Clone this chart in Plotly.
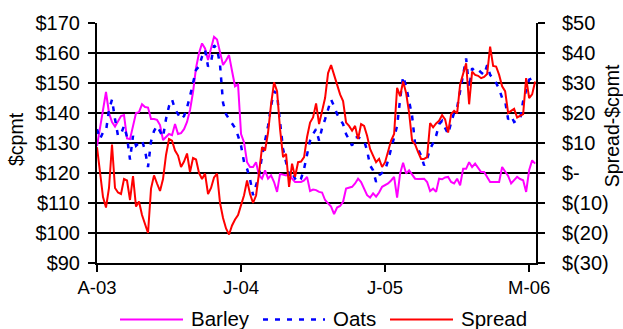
import pandas as pd
import plotly.graph_objects as go

# Weekly observations, Aug 2003 - May 2006
weeks = pd.date_range("2003-08-01", periods=147, freq="7D")

tick_idx = [0, 48, 96, 144]
tick_text = ["A-03", "J-04", "J-05", "M-06"]

# Barley price, $ per tonne (left axis)
barley = [
    129, 135, 141, 147, 140, 137, 135.5, 137.5, 139, 139.3,
    131.5, 131.3, 136, 140, 140.3, 142.9, 142, 141.8, 138, 138,
    137.7, 136, 131, 132, 133, 132.6, 136.3, 133, 133.3, 134.6,
    137, 141, 147, 155, 160, 163.2, 161.5, 157.7, 162, 165.4,
    164.5, 160, 156, 157.5, 159.3, 154, 148.9, 149.5, 133, 130.2,
    123.6, 122, 122, 123.6, 119.2, 118.1, 120.9, 118.1, 119.2, 117,
    113.7, 119.7, 119.5, 119.2, 119.7, 118.1, 117, 117, 117, 117.5,
    118.7, 114, 114.5, 114.3, 113.7, 113.5, 111, 109.9, 108.8, 106.3,
    108.5, 109, 110.4, 114.8, 115, 115.4, 116.5, 118.1, 117, 115,
    112.6, 111.8, 113.2, 112.1, 113.5, 115.4, 116, 116.5, 117.5, 118.7,
    111.8, 119.8, 123.4, 119.8, 120.9, 119.5, 118.1, 118, 118, 118.1,
    117, 114, 114.8, 113.7, 118.1, 117.9, 118.5, 118.7, 117, 116.5,
    118.1, 115.9, 121.4, 121.4, 123.6, 122, 123.1, 121.5, 120.3, 120.3,
    118.5, 117, 117, 117, 117, 122, 120.5, 119, 116.5, 117.5,
    118.7, 118, 117.6, 113.7, 120.9, 124.2, 123.1,
]

# Oats price, $ per tonne (left axis)
oats = [
    134.6, 131.3, 133.5, 134, 141, 144.5, 138, 132.4, 133, 135.7,
    132, 124.5, 132.4, 129.1, 130, 130.8, 127.5, 122, 130.5, 134,
    135.7, 134, 132, 138, 142.3, 144.5, 141.2, 139.6, 137.9, 139,
    141.8, 145.6, 150, 154.4, 155.5, 158.8, 161, 155.5, 157, 162.5,
    161.5, 156, 143.4, 139.6, 138, 136.3, 135, 132.4, 129.1, 123.6,
    121.4, 117.9, 112.6, 115.9, 119.2, 125.8, 130.2, 135.7, 142.3, 147.3,
    146, 137.9, 128, 123.6, 119.2, 120.3, 118.1, 117, 118.1, 121.4,
    126, 130.8, 133, 134.6, 130.8, 135, 137.9, 141.2, 144.5, 142.3,
    139.6, 138, 136.3, 133, 130.8, 129.1, 131.9, 132, 131.3, 130.8,
    127.5, 122.5, 120.9, 117, 119.2, 120, 120.9, 124.2, 128, 131.3,
    135.7, 144.5, 152.2, 148.9, 144.5, 139, 129.7, 128, 125.8, 122.5,
    124.7, 128, 130, 132.4, 136.3, 137.4, 135, 133, 136.8, 140.1,
    141.8, 147, 153, 158.2, 148.4, 154.9, 153.8, 154.4, 153.5, 152.7,
    156, 152.7, 151.5, 150, 148, 145, 144, 137.9, 139, 137,
    137.5, 137.9, 144, 147.8, 151.1, 151.6, 151.6,
]

# Oats minus barley spread, $ per tonne (right axis)
spread = [
    8.6, 1, -8, -11.5, -5, 9.5, -5, -6.5, -7, -2,
    -2.5, -9, -1, -11.2, -9.5, -14, -17, -20, -5.2, -0.8,
    -3.5, -6, -2, 6, 11.3, 10.8, 7.5, 5.8, 2, 3.8,
    6.5, 0.3, 5, 4.5, 0, -2, -0.2, -7, -5, -1.5,
    -0.2, -10, -15, -18.5, -20.5, -17.5, -15.5, -14, -10.7, -7.4,
    -2.5, -7, -10, -7.5, 0, 8.6, 7.5, 13.5, 22.9, 30.2,
    27.3, 14.6, 5.3, 6.4, -4.6, 3.1, -1.3, 3.6, 3.8, 5.3,
    12, 16.8, 18.5, 23.2, 16.3, 20.5, 25, 33.3, 36, 32.7,
    29.5, 26.2, 24, 16.8, 15.7, 14.1, 15.7, 11.3, 16.3, 15.7,
    12.4, 8, 5.8, 3.6, 4.7, 2, 3.6, 7.5, 10.8, 13,
    28.4, 25.6, 30.5, 26.7, 20.1, 10.8, 9.5, 7, 4.7, 4.7,
    5.3, 16.6, 15.2, 16.5, 17.4, 19.3, 17.9, 13.5, 19.6, 20.7,
    19.9, 29.5, 33.3, 36.6, 22.9, 33.8, 32.7, 32.4, 31.6, 32,
    33, 42.1, 35.7, 35.5, 32.7, 28.9, 27.3, 20, 20.7, 21.4,
    18.5, 19, 19.6, 31.6, 25, 26.2, 30.5,
]

left_ticks = list(range(90, 171, 10))
right_ticks = list(range(-30, 51, 10))
right_text = ["$(30)", "$(20)", "$(10)", "$-", "$10", "$20", "$30", "$40", "$50"]

BARLEY_C = "#FF00FF"
OATS_C = "#0000FF"
SPREAD_C = "#FF0000"
FONT = "Liberation Sans, Arial, sans-serif"

fig = go.Figure()
fig.add_trace(go.Scatter(x=weeks, y=barley, name="Barley", mode="lines",
                         line=dict(color=BARLEY_C, width=2)))
fig.add_trace(go.Scatter(x=weeks, y=oats, name="Oats", mode="lines",
                         line=dict(color=OATS_C, width=2.5, dash="5px,7px")))
fig.add_trace(go.Scatter(x=weeks, y=spread, name="Spread", mode="lines",
                         yaxis="y2", line=dict(color=SPREAD_C, width=2)))

x_end = weeks[-1] + pd.Timedelta(days=2)

fig.update_layout(
    width=623, height=329,
    margin=dict(l=97, r=87, t=21, b=66),
    paper_bgcolor="white", plot_bgcolor="white",
    font=dict(family=FONT, color="black", size=19),
    showlegend=False,
    xaxis=dict(
        range=[weeks[0], x_end],
        tickvals=[weeks[i] for i in tick_idx], ticktext=tick_text,
        ticks="outside", ticklen=7, tickwidth=2, tickcolor="black",
        showline=True, linewidth=2, linecolor="black",
        showgrid=False, zeroline=False,
        tickfont=dict(size=18.5),
    ),
    yaxis=dict(
        range=[90, 170], tickvals=left_ticks,
        ticktext=[f"${v}" for v in left_ticks],
        ticks="outside", ticklen=7, tickwidth=2, tickcolor="black",
        showline=True, linewidth=2, linecolor="black",
        showgrid=True, gridcolor="black", gridwidth=2,
        zeroline=False, tickfont=dict(size=20),
        ticklabelstandoff=4,
    ),
    yaxis2=dict(
        range=[-30, 50], overlaying="y", side="right",
        tickvals=right_ticks, ticktext=right_text,
        ticks="outside", ticklen=7, tickwidth=2, tickcolor="black",
        showline=True, linewidth=2, linecolor="black",
        showgrid=False, zeroline=False, tickfont=dict(size=20),
        ticklabelstandoff=13,
    ),
)

# Axis titles
def px_x(px):
    return (px - 97) / 439

def px_y(py):
    return (263 - py) / 242

fig.add_annotation(text="$cpmt", xref="paper", yref="paper",
                   x=px_x(16), y=px_y(138), textangle=-90, showarrow=False,
                   font=dict(size=19.5), xanchor="center", yanchor="middle")
fig.add_annotation(text="Spread-$cpmt", xref="paper", yref="paper",
                   x=px_x(612), y=px_y(125), textangle=-90, showarrow=False,
                   font=dict(size=19.5), xanchor="center", yanchor="middle")

# Legend drawn below the axis with long line samples
legend_items = [
    ("Barley", BARLEY_C, "solid", 2, 120, 183, 189),
    ("Oats", OATS_C, "5px,7px", 2.5, 263, 325, 331),
    ("Spread", SPREAD_C, "solid", 2, 390, 453, 459),
]
ly = px_y(320)
for label, color, dash, w, x0, x1, tx in legend_items:
    fig.add_shape(type="line", xref="paper", yref="paper",
                  x0=px_x(x0), x1=px_x(x1), y0=ly, y1=ly,
                  line=dict(color=color, width=w, dash=dash))
    fig.add_annotation(text=label, xref="paper", yref="paper",
                       x=px_x(tx), y=px_y(319), showarrow=False,
                       xanchor="left", yanchor="middle", font=dict(size=20.5))

fig.write_html("out.html")
